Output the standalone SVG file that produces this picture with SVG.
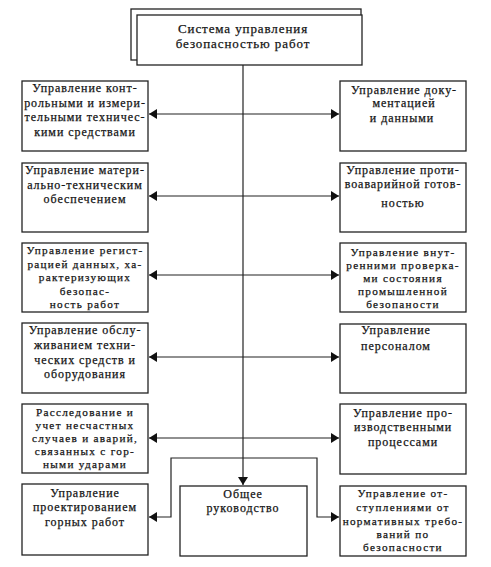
<svg xmlns="http://www.w3.org/2000/svg" width="491" height="567" viewBox="0 0 491 567">
<style>
rect{fill:#fff;stroke:#222;stroke-width:1.3}
text{font-family:"Liberation Serif","Times New Roman",serif;font-size:12px;letter-spacing:0.95px;fill:#151515;stroke:#151515;stroke-width:0.25;text-anchor:middle}
.t{font-size:13px;letter-spacing:0.9px}
.s text{font-size:11.2px;letter-spacing:1.3px}
.c path,.c line,.c polyline{fill:none;stroke:#222;stroke-width:1.2}
</style>
<defs>
<marker id="a" markerUnits="userSpaceOnUse" markerWidth="9" markerHeight="10" refX="8" refY="5" orient="auto-start-reverse">
<path d="M0,0 L8,5 L0,10 z" fill="#111"/>
</marker>
</defs>
<rect width="491" height="567" style="fill:#fff;stroke:none"/>
<g class="c" id="connectors">
<line x1="243" y1="65" x2="243" y2="485" marker-end="url(#a)"/>
<line x1="149" y1="114" x2="339" y2="114" marker-start="url(#a)" marker-end="url(#a)"/>
<line x1="149" y1="196" x2="339" y2="196" marker-start="url(#a)" marker-end="url(#a)"/>
<line x1="149" y1="275" x2="339" y2="275" marker-start="url(#a)" marker-end="url(#a)"/>
<line x1="149" y1="357" x2="339" y2="357" marker-start="url(#a)" marker-end="url(#a)"/>
<line x1="149" y1="438" x2="339" y2="438" marker-start="url(#a)" marker-end="url(#a)"/>
<polyline points="149,517 171,517 171,458 317,458 317,517 339,517" marker-start="url(#a)" marker-end="url(#a)"/>
</g>
<g id="top">
<rect x="131" y="9" width="230" height="51"/>
<rect x="137" y="15" width="225" height="50"/>
<text class="t" x="243" y="33">Система управления</text>
<text class="t" x="243" y="48">безопасностью работ</text>
</g>
<g id="l1">
<rect x="22" y="81" width="126" height="70"/>
<text x="85" y="92">Управление конт-</text>
<text x="85" y="107">рольными и измери-</text>
<text x="85" y="121">тельными техничес-</text>
<text x="85" y="136">кими средствами</text>
</g>
<g id="l2">
<rect x="22" y="163" width="126" height="69"/>
<text x="85" y="174">Управление матери-</text>
<text x="85" y="189">ально-техническим</text>
<text x="85" y="203">обеспечением</text>
</g>
<g id="l3" class="s">
<rect x="22" y="243" width="126" height="69"/>
<text x="85" y="254">Управление регист-</text>
<text x="85" y="267.5">рацией данных, ха-</text>
<text x="85" y="281">рактеризующих</text>
<text x="85" y="294.5">безопас-</text>
<text x="85" y="308">ность работ</text>
</g>
<g id="l4">
<rect x="22" y="323" width="126" height="70"/>
<text x="85" y="334">Управление обслу-</text>
<text x="85" y="349">живанием техни-</text>
<text x="85" y="364">ческих средств и</text>
<text x="85" y="378">оборудования</text>
</g>
<g id="l5" class="s">
<rect x="22" y="404" width="126" height="69"/>
<text x="85" y="416">Расследование и</text>
<text x="85" y="429">учет несчастных</text>
<text x="85" y="442">случаев и аварий,</text>
<text x="85" y="455">связанных с гор-</text>
<text x="85" y="468">ными ударами</text>
</g>
<g id="l6">
<rect x="22" y="484" width="126" height="71"/>
<text x="85" y="497">Управление</text>
<text x="85" y="511">проектированием</text>
<text x="85" y="526">горных работ</text>
</g>
<g id="mid">
<rect x="180" y="486" width="127" height="70"/>
<text x="243" y="498">Общее</text>
<text x="243" y="512">руководство</text>
</g>
<g id="r1">
<rect x="340" y="81" width="126" height="70"/>
<text x="404" y="94">Управление доку-</text>
<text x="404" y="107">ментацией</text>
<text x="402" y="122">и данными</text>
</g>
<g id="r2">
<rect x="340" y="163" width="126" height="69"/>
<text x="403" y="174">Управление проти-</text>
<text x="403" y="188">воаварийной готов-</text>
<text x="403" y="207">ностью</text>
</g>
<g id="r3" class="s">
<rect x="340" y="243" width="126" height="69"/>
<text x="403" y="256">Управление внут-</text>
<text x="403" y="269">ренними проверка-</text>
<text x="403" y="282">ми состояния</text>
<text x="403" y="295">промышленной</text>
<text x="403" y="308">безопаности</text>
</g>
<g id="r4">
<rect x="340" y="324" width="126" height="69"/>
<text x="396" y="334">Управление</text>
<text x="396" y="350">персоналом</text>
</g>
<g id="r5">
<rect x="340" y="404" width="126" height="70"/>
<text x="403" y="417">Управление про-</text>
<text x="403" y="431">изводственными</text>
<text x="403" y="446">процессами</text>
</g>
<g id="r6" class="s">
<rect x="340" y="486" width="126" height="70"/>
<text x="403" y="497">Управление от-</text>
<text x="403" y="511">ступлениями от</text>
<text x="403" y="525">нормативных требо-</text>
<text x="403" y="538">ваний по</text>
<text x="403" y="551">безопасности</text>
</g>
</svg>
